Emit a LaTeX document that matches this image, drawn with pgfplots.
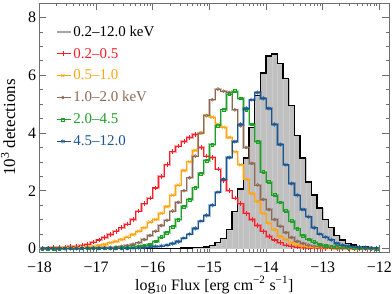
\documentclass[border=0pt]{standalone}
\usepackage{pgfplots}
\pgfplotsset{compat=1.18}
\usepackage{pgfplotstable}
\usepackage{fontspec}
\setmainfont{Liberation Serif}
\definecolor{cRed}{RGB}{250,30,40}
\definecolor{cOrange}{RGB}{255,165,20}
\definecolor{cBrown}{RGB}{140,105,85}
\definecolor{cGreen}{RGB}{30,160,40}
\definecolor{cBlue}{RGB}{25,85,145}
\definecolor{cFill}{RGB}{192,192,192}
\definecolor{cAxis}{RGB}{110,110,110}
\pgfplotstableread{
x r o b g u k
-17.95 0.01 0.01 0.00 0.00 0.00 0.00
-17.85 0.02 0.01 0.01 0.00 0.00 0.00
-17.75 0.03 0.02 0.01 0.00 0.00 0.00
-17.65 0.04 0.02 0.01 0.00 0.00 0.00
-17.55 0.05 0.03 0.01 0.01 0.00 0.00
-17.45 0.07 0.03 0.01 0.01 0.00 0.00
-17.35 0.09 0.04 0.01 0.01 0.00 0.00
-17.25 0.12 0.05 0.01 0.01 0.01 0.00
-17.15 0.16 0.06 0.02 0.01 0.01 0.00
-17.05 0.22 0.08 0.02 0.01 0.01 0.00
-16.95 0.30 0.10 0.02 0.01 0.01 0.00
-16.85 0.38 0.14 0.03 0.01 0.01 0.00
-16.75 0.48 0.20 0.04 0.01 0.01 0.00
-16.65 0.60 0.25 0.05 0.02 0.01 0.00
-16.55 0.72 0.31 0.07 0.02 0.01 0.00
-16.45 0.85 0.40 0.10 0.03 0.01 0.00
-16.35 1.00 0.48 0.15 0.05 0.02 0.00
-16.25 1.30 0.60 0.20 0.07 0.02 0.00
-16.15 1.55 0.72 0.31 0.10 0.03 0.00
-16.05 1.75 0.92 0.45 0.15 0.05 0.00
-15.95 2.10 1.00 0.60 0.25 0.07 0.00
-15.85 2.50 1.22 0.80 0.40 0.09 0.01
-15.75 2.90 1.45 0.98 0.55 0.12 0.01
-15.65 3.35 1.85 1.30 0.75 0.17 0.01
-15.55 3.55 2.20 1.60 1.00 0.24 0.01
-15.45 3.70 2.70 2.00 1.45 0.36 0.02
-15.35 3.85 3.00 2.45 1.70 0.50 0.02
-15.25 3.95 3.40 3.20 2.10 0.70 0.03
-15.15 3.50 4.00 4.00 2.60 0.95 0.03
-15.05 3.20 4.60 4.60 3.05 1.15 0.05
-14.95 3.15 4.55 5.15 3.60 1.50 0.10
-14.85 2.75 4.30 5.52 4.25 1.95 0.20
-14.75 2.35 4.20 5.45 4.80 2.40 0.34
-14.65 2.00 3.85 5.40 5.35 3.15 0.65
-14.55 1.75 3.35 4.80 5.45 3.70 1.27
-14.45 1.55 2.90 4.25 5.20 4.30 2.06
-14.35 1.22 2.40 3.50 4.80 4.85 3.13
-14.25 1.00 1.90 2.95 4.30 5.15 4.20
-14.15 0.80 1.63 2.20 3.70 5.40 5.29
-14.05 0.60 1.22 1.70 2.65 5.20 6.08
-13.95 0.42 0.88 1.35 2.30 4.85 6.67
-13.85 0.30 0.65 1.00 1.85 4.30 6.73
-13.75 0.20 0.42 0.77 1.60 3.60 6.40
-13.65 0.12 0.31 0.55 1.30 2.90 5.88
-13.55 0.08 0.20 0.38 0.95 2.25 4.95
-13.45 0.05 0.12 0.25 0.68 1.85 3.92
-13.35 0.03 0.08 0.18 0.45 1.35 3.13
-13.25 0.02 0.06 0.12 0.32 1.10 2.30
-13.15 0.02 0.04 0.08 0.22 0.72 1.85
-13.05 0.01 0.03 0.06 0.15 0.50 1.40
-12.95 0.01 0.02 0.04 0.10 0.40 1.00
-12.85 0.01 0.02 0.03 0.07 0.30 0.72
-12.75 0.00 0.01 0.02 0.05 0.18 0.45
-12.65 0.00 0.01 0.02 0.04 0.12 0.30
-12.55 0.00 0.01 0.01 0.03 0.08 0.18
-12.45 0.00 0.00 0.01 0.02 0.06 0.12
-12.35 0.00 0.00 0.00 0.02 0.04 0.08
-12.25 0.00 0.00 0.00 0.01 0.03 0.05
-12.15 0.00 0.00 0.00 0.01 0.02 0.03
-12.05 0.00 0.00 0.00 0.00 0.01 0.02
}\data
\begin{document}
\begin{tikzpicture}
\begin{axis}[name=ax, scale only axis, width=349.5bp, height=249bp,
  xmin=-18, xmax=-11.83, ymin=-0.12, ymax=8.5,
  xtick={-18,-17,-16,-15,-14,-13,-12},
  xticklabels={−18,−17,−16,−15,−14,−13,−12},
  ytick={0,2,4,6,8}, minor y tick num=3,
  minor xtick={-17.69897,-17.52288,-17.39794,-17.30103,-17.22185,-17.15490,-17.09691,-17.04576,
    -16.69897,-16.52288,-16.39794,-16.30103,-16.22185,-16.15490,-16.09691,-16.04576,
    -15.69897,-15.52288,-15.39794,-15.30103,-15.22185,-15.15490,-15.09691,-15.04576,
    -14.69897,-14.52288,-14.39794,-14.30103,-14.22185,-14.15490,-14.09691,-14.04576,
    -13.69897,-13.52288,-13.39794,-13.30103,-13.22185,-13.15490,-13.09691,-13.04576,
    -12.69897,-12.52288,-12.39794,-12.30103,-12.22185,-12.15490,-12.09691,-12.04576},
  tick align=inside, major tick length=7bp, minor tick length=3.5bp,
  axis line style={cAxis, line width=0.6bp},
  every tick/.style={cAxis, line width=0.6bp},
  /pgf/number format/assume math mode=true,
  tick label style={font=\fontsize{16}{18}\selectfont},
  xticklabel style={anchor=base, yshift=-20bp},
  xlabel={log\textsubscript{10} Flux [erg cm\textsuperscript{−2} s\textsuperscript{−1}]},
  ylabel={10\textsuperscript{3} detections},
  xlabel style={font=\fontsize{16}{18}\selectfont, at={(axis description cs:0.5,-0.1526)}, anchor=base},
  ylabel style={font=\fontsize{17}{19}\selectfont, at={(axis description cs:-0.0700,0.5)}, anchor=base},
  legend style={draw=none, fill=none, at={(axis description cs:0.0486,0.912)}, anchor=north west,
    font=\fontsize{15}{17}\selectfont, row sep=8.4bp, inner sep=0pt,
    nodes={inner sep=1.5bp, text height=9.5bp, text depth=1bp}},
  legend cell align=left,
  legend image code/.code={\path (0bp,0bp) -- (14bp,0bp);
    \draw[mark repeat=2, mark phase=2, #1] plot coordinates {(0bp,0bp) (5.5bp,0bp) (11bp,0bp)};},
  clip=true,
]
\addlegendimage{gray!70, line width=1.3bp}
\addlegendentry{0.2–12.0 keV}
\addplot[ybar interval, fill=cFill, draw=white!18!cFill, line width=0.3bp, forget plot] table[x expr=\thisrow{x}-0.05,y=k]{\data};
\addplot[const plot mark mid, black, line width=1.3bp, forget plot] table[x=x,y=k]{\data};
% pale companions
\addplot[const plot mark mid, cRed, opacity=0.4, line width=2.4bp, forget plot] table[x=x,y=r]{\data};
\addplot[const plot mark mid, cOrange, opacity=0.4, line width=2.4bp, forget plot] table[x=x,y=o]{\data};
\addplot[const plot mark mid, cBrown, opacity=0.4, line width=2.4bp, forget plot] table[x=x,y=b]{\data};
\addplot[const plot mark mid, cGreen, opacity=0.4, line width=2.4bp, forget plot] table[x=x,y=g]{\data};
\addplot[const plot mark mid, cBlue, opacity=0.4, line width=2.4bp, forget plot] table[x=x,y=u]{\data};
% main lines
\addplot[const plot mark mid, cRed, line width=0.8bp, mark=+, mark size=2.3bp, mark options={solid, line width=0.6bp}] table[x=x,y=r]{\data};
\addlegendentry{\textcolor{cRed}{0.2–0.5}}
\addplot[const plot mark mid, cOrange, line width=0.8bp, mark=x, mark size=2.3bp, mark options={solid, line width=0.6bp}] table[x=x,y=o]{\data};
\addlegendentry{\textcolor{cOrange}{0.5–1.0}}
\addplot[const plot mark mid, cBrown, line width=0.8bp, mark=o, mark size=1.5bp, mark options={solid, line width=0.6bp}] table[x=x,y=b]{\data};
\addlegendentry{\textcolor{cBrown}{1.0–2.0 keV}}
\addplot[const plot mark mid, cGreen, line width=0.8bp, mark=square, mark size=1.4bp, mark options={solid, line width=0.6bp}] table[x=x,y=g]{\data};
\addlegendentry{\textcolor{cGreen}{2.0–4.5}}
\addplot[const plot mark mid, cBlue, line width=0.8bp, mark=asterisk, mark size=2.2bp, mark options={solid, line width=0.6bp}] table[x=x,y=u]{\data};
\addlegendentry{\textcolor{cBlue}{4.5–12.0}}
\end{axis}
\pgfresetboundingbox
\path ([xshift=-39.5bp,yshift=-42bp]ax.south west) rectangle ([xshift=3bp,yshift=3bp]ax.north east);
\end{tikzpicture}
\end{document}
